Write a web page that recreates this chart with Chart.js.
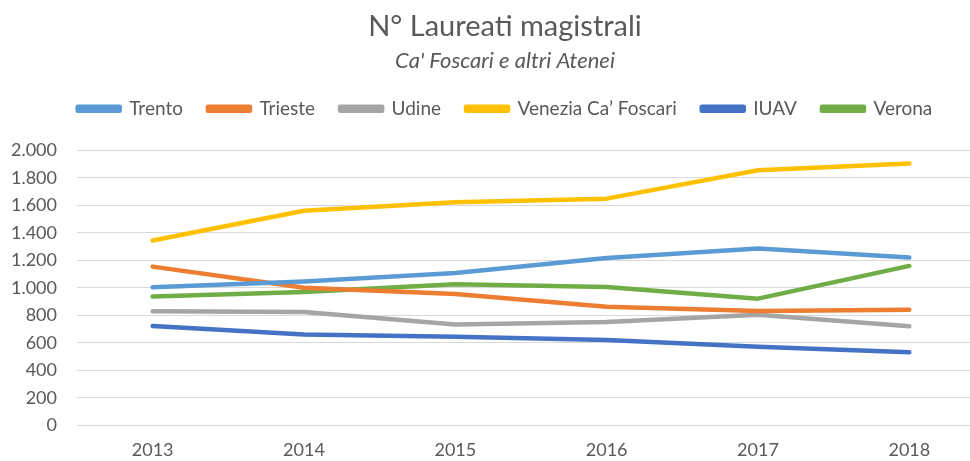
<!DOCTYPE html>
<html>
<head>
  <meta charset="UTF-8">
  <title>N° Laureati magistrali</title>
  <style type="text/css">
    body { margin: 0; overflow: hidden; background: #fff; }
    #chart-container { width: 1010px; height: 461px; }
  </style>
  <script type="text/javascript" src="https://cdn.jsdelivr.net/npm/chart.js@4"></script>
</head>
<body>
  <div id="chart-container">
    <canvas id="mycanvas"></canvas>
  </div>

<script>
// data
var years = ['2013', '2014', '2015', '2016', '2017', '2018'];
var trento = [1004, 1045, 1108, 1217, 1286, 1220];
var trieste = [1154, 1001, 955, 863, 831, 841];
var udine = [829, 824, 734, 751, 804, 720];
var venezia = [1344, 1560, 1621, 1648, 1854, 1903];
var iuav = [722, 661, 644, 620, 571, 532];
var verona = [936, 970, 1026, 1006, 921, 1159];
var yTicks = [0, 200, 400, 600, 800, 1000, 1200, 1400, 1600, 1800, 2000];

function serie(label, data, color) {
  return {
    label: label,
    data: data,
    borderColor: color,
    backgroundColor: color,
    borderWidth: 4.5,
    pointRadius: 0,
    tension: 0,
    borderCapStyle: 'round',
    borderJoinStyle: 'round'
  };
}

function fmt(v) {
  return String(v).replace(/\B(?=(\d{3})+(?!\d))/g, '.');
}

var fontFam = 'Lato, "Open Sans", sans-serif';

// extra room between legend and plot
var legendGap = {
  id: 'legendGap',
  beforeInit: function(chart) {
    var fit = chart.legend.fit;
    chart.legend.fit = function() {
      fit.bind(chart.legend)();
      this.height += 22;
    };
  }
};

var ctx = document.getElementById('mycanvas');
new Chart(ctx, {
  type: 'line',
  data: {
    labels: years,
    datasets: [
      serie('Trento', trento, '#5B9BD5'),
      serie('Trieste', trieste, '#ED7D31'),
      serie('Udine', udine, '#A5A5A5'),
      serie('Venezia Ca\u2019 Foscari', venezia, '#FFC000'),
      serie('IUAV', iuav, '#4472C4'),
      serie('Verona', verona, '#70AD47')
    ]
  },
  plugins: [legendGap],
  options: {
    responsive: true,
    maintainAspectRatio: false,
    animation: false,
    layout: { padding: { left: 0, right: 0, top: 0, bottom: 0 } },
    plugins: {
      title: {
        display: true,
        text: 'N\u00B0 Laureati magistrali',
        color: '#595959',
        font: { family: fontFam, size: 29, weight: 'normal' },
        padding: { top: 9, bottom: 4 }
      },
      subtitle: {
        display: true,
        text: "Ca' Foscari e altri Atenei",
        color: '#595959',
        font: { family: fontFam, size: 22, style: 'italic' },
        padding: { top: 0, bottom: 0 }
      },
      legend: {
        labels: {
          color: '#595959',
          font: { family: fontFam, size: 19 },
          boxWidth: 42,
          boxHeight: 4,
          padding: 25
        }
      },
      tooltip: { enabled: false }
    },
    scales: {
      x: {
        offset: true,
        grid: { display: false, tickLength: 14 },
        border: { display: false },
        ticks: { color: '#595959', font: { family: fontFam, size: 18 }, padding: 0 }
      },
      y: {
        min: 0,
        max: 2000,
        afterBuildTicks: function(axis) {
          axis.ticks = yTicks.map(function(v) { return { value: v }; });
        },
        afterFit: function(axis) { axis.width = 77; },
        grid: { color: '#d9d9d9', lineWidth: 1, drawTicks: false },
        border: { display: false },
        ticks: {
          color: '#595959',
          font: { family: fontFam, size: 18 },
          padding: 20,
          callback: function(v) { return fmt(v); }
        }
      },
      // empty right axis, only keeps the plot edge where the reference has it
      y2: {
        position: 'right',
        min: 0,
        max: 2000,
        grid: { display: false },
        border: { display: false },
        ticks: { display: false },
        afterFit: function(axis) { axis.width = 25; }
      }
    }
  }
});
</script>
</body>
</html>
